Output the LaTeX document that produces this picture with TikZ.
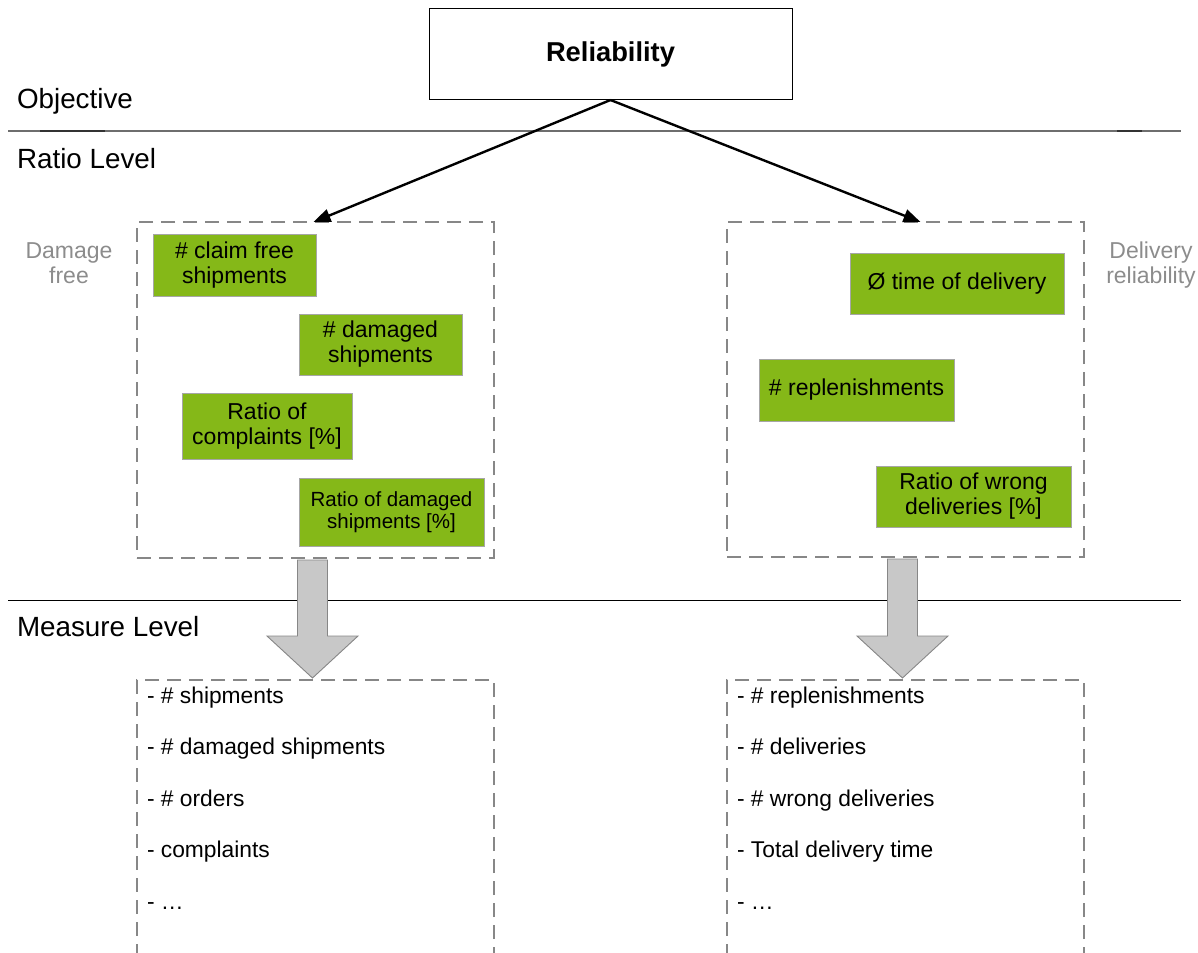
\documentclass[tikz,border=0pt]{standalone}
\usepackage{fontspec}
\setmainfont{Liberation Sans}
\usetikzlibrary{arrows.meta,calc}
\definecolor{kpigreen}{RGB}{133,184,24}
\definecolor{framegray}{RGB}{135,135,135}
\definecolor{blockfill}{RGB}{200,200,200}
\definecolor{sidegray}{RGB}{140,140,140}
\definecolor{rulegray}{RGB}{110,110,110}

\begin{document}
\begin{tikzpicture}[x={(1pt,0)},y={(0,-1pt)},
  every node/.style={inner sep=0pt,outer sep=0pt},
  levelrule/.style={line width=1.3pt},
  levellabel/.style={anchor=base west,font=\fontsize{27.8}{30}\selectfont},
  goalbox/.style={draw=black,line width=1pt,minimum width=363,minimum height=91,
    anchor=north west,font=\fontsize{27.3}{30}\selectfont\bfseries},
  groupbox/.style={draw=framegray,line width=2.7pt,dash pattern=on 14pt off 8pt,anchor=north west},
  kpi/.style={fill=kpigreen,draw=gray!70,line width=0.8pt,anchor=north west,
    align=center,font=\fontsize{23}{25}\selectfont},
  sidelabel/.style={text=sidegray,align=center,font=\fontsize{23}{25}\selectfont},
  measure/.style={anchor=base west,font=\fontsize{22.8}{26}\selectfont},
  link/.style={line width=2.4pt,-{Triangle[length=17pt,width=13pt]}},
  blockarrow/.style={fill=blockfill,draw=framegray,line width=0.9pt,line join=miter},
]
\useasboundingbox (0,0) rectangle (1198,952);
\clip (0,0) rectangle (1198,952);

% level separators
\draw[levelrule,rulegray] (8,131) -- (1181,131);
\draw[line width=1.6pt,black!80] (40,131) -- (105,131);
\draw[line width=1.6pt,black!80] (1117,131) -- (1142,131);
\draw[levelrule,black] (8,600.5) -- (1181,600.5);

% level names
\node[levellabel] (objective) at (17,108.5) {Objective};
\node[levellabel] (ratiolevel) at (17,169) {Ratio Level};
\node[levellabel] (measurelevel) at (17,636.5) {Measure Level};

% objective
\node[goalbox] (rel) at (429,9) {Reliability};

% ratio groups and measure groups
\node[groupbox,minimum width=357,minimum height=336] (rL) at (137,222) {};
\node[groupbox,minimum width=357,minimum height=335] (rR) at (727,222) {};
\node[groupbox,minimum width=357,minimum height=320] (mL) at (137,680) {};
\node[groupbox,minimum width=357,minimum height=320] (mR) at (727,680) {};

\node[sidelabel] (dmgfree) at (69,263) {Damage\\free};
\node[sidelabel] (delrel) at (1151,265.5) {Delivery\\reliability};

% objective to ratio groups
\draw[link] (rel.south) -- ([xshift=-2pt]rL.north);
\draw[link] (rel.south) -- ([xshift=15pt]rR.north);

% ratios
\node[kpi,minimum width=163,minimum height=62] (k1) at (153,234) {\# claim free\\shipments};
\node[kpi,minimum width=163,minimum height=61] (k2) at (299,314) {\# damaged\\shipments};
\node[kpi,minimum width=170,minimum height=66] (k3) at (182,393) {Ratio of\\complaints [\%]};
\node[kpi,minimum width=185,minimum height=68,font=\fontsize{20.5}{22.5}\selectfont] (k4) at (299,478) {Ratio of damaged\\shipments [\%]};
\node[kpi,minimum width=214,minimum height=61] (k5) at (850,253) {Ø time of delivery};
\node[kpi,minimum width=195,minimum height=62] (k6) at (759,359) {\# replenishments};
\node[kpi,minimum width=195,minimum height=61] (k7) at (876,466) {Ratio of wrong\\deliveries [\%]};

% block arrows from ratio groups down to measures
\coordinate (aL) at ([xshift=-3pt,yshift=-2pt]rL.south);
\coordinate (aR) at ([xshift=-3pt,yshift=-2pt]rR.south);
\draw[blockarrow] (aL) ++(-15,0) -- ++(30,0) -- ++(0,76) -- ++(30.5,0) -- ++(-45.5,42)
  -- ++(-45.5,-42) -- ++(30.5,0) -- cycle;
\draw[blockarrow] (aR) ++(-15,0) -- ++(30,0) -- ++(0,77) -- ++(30.5,0) -- ++(-45.5,42)
  -- ++(-45.5,-42) -- ++(30.5,0) -- cycle;

% measures
\node[measure] (ml1) at (147,703) {- \# shipments};
\node[measure] (ml2) at (147,754.5) {- \# damaged shipments};
\node[measure] (ml3) at (147,806) {- \# orders};
\node[measure] (ml4) at (147,857.5) {- complaints};
\node[measure] (ml5) at (147,909) {- …};

\node[measure] (mr1) at (737,703) {- \# replenishments};
\node[measure] (mr2) at (737,754.5) {- \# deliveries};
\node[measure] (mr3) at (737,806) {- \# wrong deliveries};
\node[measure] (mr4) at (737,857.5) {- Total delivery time};
\node[measure] (mr5) at (737,909) {- …};
\end{tikzpicture}
\end{document}
